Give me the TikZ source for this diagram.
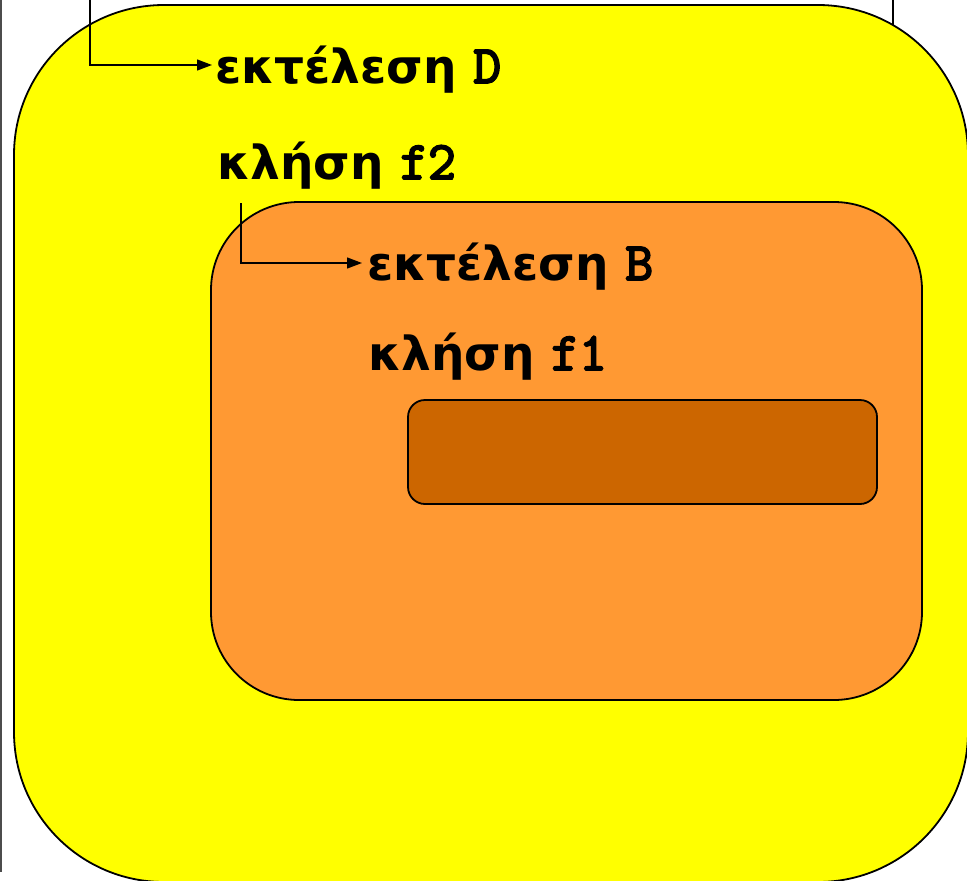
\documentclass[tikz,border=0pt]{standalone}
\usepackage{fontspec}
\setmainfont{DejaVu Sans}
\newfontfamily\codefont{Latin Modern Mono}[FakeBold=3.5]
\usetikzlibrary{arrows.meta}

\definecolor{kitrino}{HTML}{FFFF00}
\definecolor{portokali}{HTML}{FF9933}
\definecolor{kafe}{HTML}{CC6600}

\tikzset{
  plaisio/.style={draw=black, line width=1.8pt},
  keimeno/.style={anchor=base west, inner sep=0pt, font=\fontsize{47}{56}\selectfont\bfseries},
  velos/.style={line width=1.3pt, -{Triangle[length=15pt,width=11pt]}}
}

\newcommand{\kwd}[1]{{\codefont\fontsize{54}{56}\selectfont #1}}

\begin{document}
\begin{tikzpicture}[x=1pt,y=-1pt]

        \useasboundingbox (0,0) rectangle (967,881);

        % grammes sto fonto
        \draw[gray!60!black, line width=1.6pt] (1,0) -- (1,872);
        \draw[line width=1.3pt] (893,0) -- (893,30);

        % ta plaisia
        \path[plaisio, fill=kitrino, rounded corners=150pt] (14,5) rectangle (968,882);
        \path[plaisio, fill=portokali, rounded corners=88pt] (211,202) rectangle (922,700);
        \path[plaisio, fill=kafe, rounded corners=17pt] (408,400) rectangle (877,504);

        % shmeia gia ta velh
        \coordinate (startD) at (90,0);
        \coordinate (tipD) at (212,65);
        \coordinate (startB) at (241,203);
        \coordinate (tipB) at (362,263);

        % ta keimena
        \node[keimeno] (execD) at (215,83) {εκτέλεση \kwd{D}};
        \node[keimeno] (callF2) at (217,179) {κλήση \kwd{f2}};
        \node[keimeno] (execB) at (367,280) {εκτέλεση \kwd{B}};
        \node[keimeno] (callF1) at (368,370) {κλήση \kwd{f1}};

        \draw[velos] (startD) |- (tipD);
        \draw[velos] (startB) |- (tipB);

    \end{tikzpicture}
\end{document}
